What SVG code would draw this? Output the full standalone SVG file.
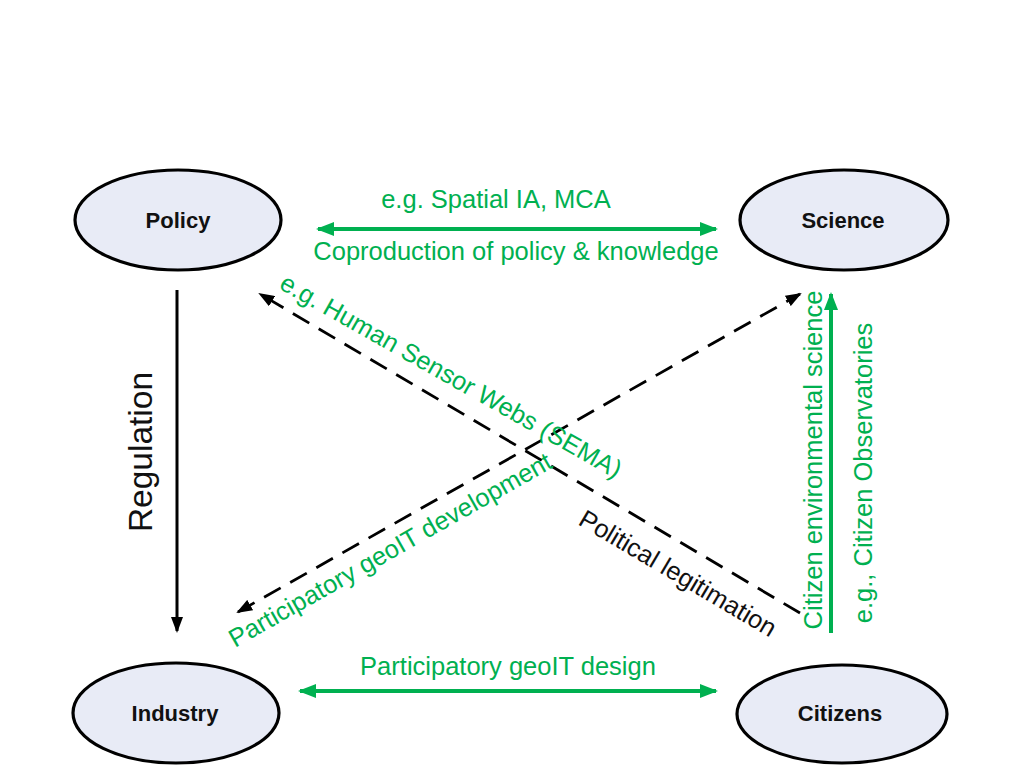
<svg xmlns="http://www.w3.org/2000/svg" width="1024" height="768" viewBox="0 0 1024 768">
<defs>
<style>
.node ellipse{fill:#E8EBF6;stroke:#000;stroke-width:3.2}
.node text{font-family:"Liberation Sans",Arial,sans-serif;font-weight:bold;font-size:22px;fill:#111;text-anchor:middle}
.lbl{font-family:"Liberation Sans",Arial,sans-serif;font-size:25.5px}
.g{fill:#00B050}
.k{fill:#111}
.gl{stroke:#00B050;stroke-width:4;fill:none}
.kl{stroke:#000;stroke-width:3;fill:none}
.dl{stroke:#000;stroke-width:2.8;fill:none;stroke-dasharray:19 11}
</style>
<marker id="ga" viewBox="0 0 18 14" refX="16" refY="7" markerWidth="18" markerHeight="14" markerUnits="userSpaceOnUse" orient="auto-start-reverse"><path d="M0,0 L18,7 L0,14 z" fill="#00B050"/></marker>
<marker id="ka" viewBox="0 0 16 12" refX="14" refY="6" markerWidth="16" markerHeight="12" markerUnits="userSpaceOnUse" orient="auto-start-reverse"><path d="M0,0 L16,6 L0,12 z" fill="#000"/></marker>
</defs>
<rect width="1024" height="768" fill="#fff"/>
<g id="connectors">
<line class="gl" x1="318" y1="229" x2="716" y2="229" marker-start="url(#ga)" marker-end="url(#ga)"/>
<line class="gl" x1="300" y1="691" x2="716" y2="691" marker-start="url(#ga)" marker-end="url(#ga)"/>
<line class="gl" x1="831" y1="633" x2="831" y2="294" marker-end="url(#ga)"/>
<line class="kl" x1="177" y1="290" x2="177" y2="631" marker-end="url(#ka)"/>
<line class="dl" x1="800" y1="613" x2="260" y2="294" marker-end="url(#ka)"/>
<line class="dl" x1="238" y1="612" x2="800" y2="294" marker-start="url(#ka)" marker-end="url(#ka)"/>
</g>
<g id="labels">
<text class="lbl g" x="496" y="208" text-anchor="middle">e.g. Spatial IA, MCA</text>
<text class="lbl g" x="516" y="260" text-anchor="middle">Coproduction of policy &amp; knowledge</text>
<text class="lbl g" x="508" y="675" text-anchor="middle">Participatory geoIT design</text>
<text class="lbl k" x="152" y="452" text-anchor="middle" style="font-size:33.5px" transform="rotate(-90 152 452)">Regulation</text>
<text class="lbl g" x="822" y="460" text-anchor="middle" transform="rotate(-90 822 460)">Citizen environmental science</text>
<text class="lbl g" x="872" y="473" text-anchor="middle" transform="rotate(-90 872 473)">e.g., Citizen Observatories</text>
<text class="lbl g" x="278" y="288" transform="rotate(29.5 278 288)">e.g. Human Sensor Webs (SEMA)</text>
<text class="lbl k" x="577" y="524" transform="rotate(30.5 577 524)">Political legitimation</text>
<text class="lbl g" x="235" y="648" transform="rotate(-29.6 235 648)">Participatory geoIT development</text>
</g>
<g id="policy" class="node"><ellipse cx="178" cy="220" rx="103" ry="50"/><text x="178" y="228">Policy</text></g>
<g id="science" class="node"><ellipse cx="844" cy="220" rx="104" ry="50"/><text x="843" y="228">Science</text></g>
<g id="industry" class="node"><ellipse cx="176" cy="713" rx="103" ry="50"/><text x="175" y="721">Industry</text></g>
<g id="citizens" class="node"><ellipse cx="842" cy="714" rx="105" ry="49"/><text x="840" y="721">Citizens</text></g>
</svg>
